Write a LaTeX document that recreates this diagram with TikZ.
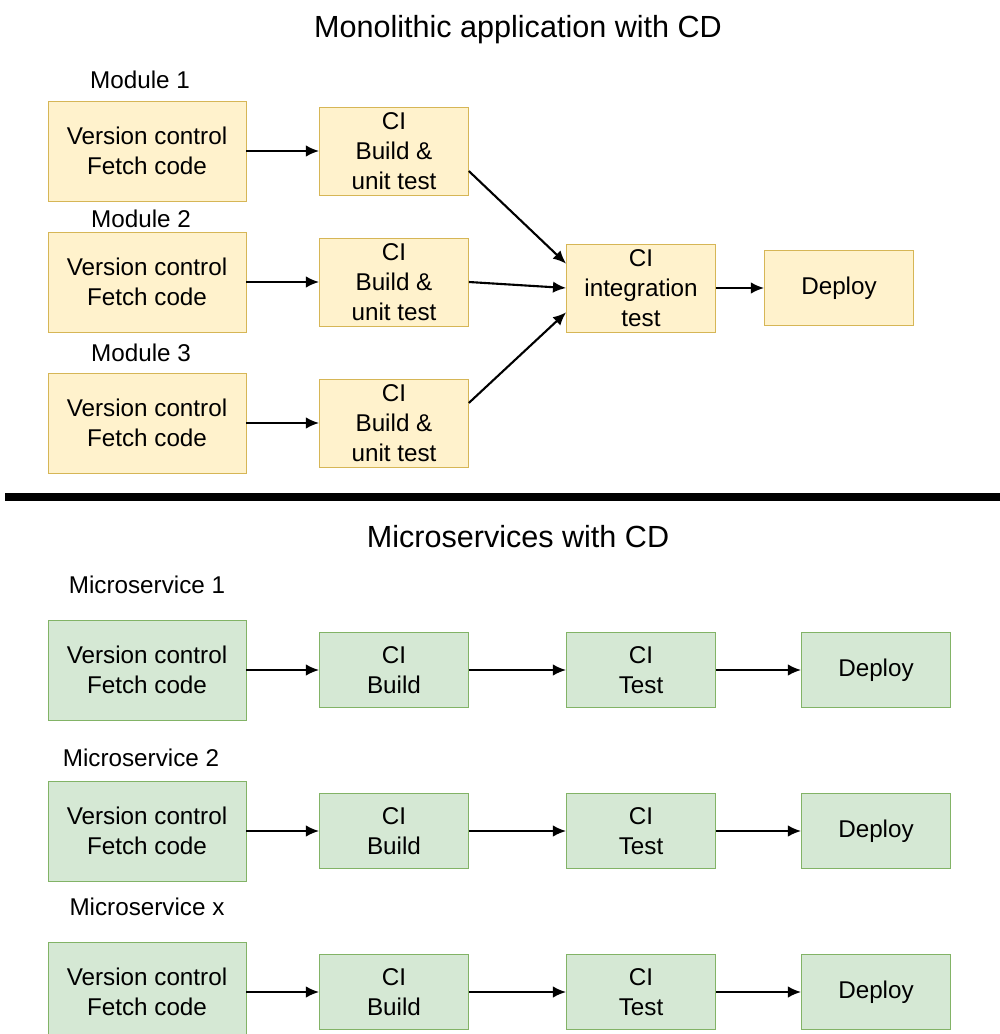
\documentclass[tikz,border=0pt]{standalone}
\usepackage{fontspec}
\setmainfont{Liberation Sans}
\usetikzlibrary{arrows.meta}

\definecolor{monofill}{HTML}{FFF2CC}
\definecolor{monoline}{HTML}{D6B656}
\definecolor{microfill}{HTML}{D5E8D4}
\definecolor{microline}{HTML}{82B366}

\begin{document}
\begin{tikzpicture}[x=0.02cm,y=-0.02cm,>={Latex[length=7.5pt,width=6.5pt]},
  font=\fontsize{13.8}{17}\selectfont,
  mono/.style={draw=monoline,fill=monofill,align=center,inner sep=0pt},
  micro/.style={draw=microline,fill=microfill,align=center,inner sep=0pt},
  wide/.style={minimum width=3.96cm,minimum height=2cm},
  narrow/.style={minimum width=2.98cm,minimum height=1.76cm},
  flat/.style={minimum width=2.98cm,minimum height=1.5cm},
  flow/.style={->,line width=1.2pt},
  heading/.style={font=\fontsize{17.4}{20}\selectfont}]
\useasboundingbox (0,0) rectangle (1000,1034);
% monolithic part
\node[heading] (monotitle) at (518,30) {Monolithic application with CD};
\node (mod1) at (140,80) {Module 1};
\node (mod2) at (141,219) {Module 2};
\node (mod3) at (141,353) {Module 3};
\node[mono,wide] (vc1) at (147,151) {Version control\\Fetch code};
\node[mono,wide] (vc2) at (147,282) {Version control\\Fetch code};
\node[mono,wide] (vc3) at (147,423) {Version control\\Fetch code};
\node[mono,narrow] (ci1) at (394,151) {CI\\Build \&\\unit test};
\node[mono,narrow] (ci2) at (394,282) {CI\\Build \&\\unit test};
\node[mono,narrow] (ci3) at (394,423) {CI\\Build \&\\unit test};
\node[mono,narrow] (integ) at (641,288) {CI\\integration\\test};
\node[mono,flat] (deploy) at (839,288) {Deploy};
\draw[flow] (vc1) -- (ci1);
\draw[flow] (vc2) -- (ci2);
\draw[flow] (vc3) -- (ci3);
\draw[flow] (ci1.-15) -- (integ.162);
\draw[flow] (ci2.east) -- (integ.west);
\draw[flow] (ci3.15) -- (integ.198);
\draw[flow] (integ) -- (deploy);
% separator
\draw[line width=4.5pt] (5,497) -- (1000,497);
% microservices part
\node[heading] (microtitle) at (518,537) {Microservices with CD};
\node (ms1) at (147,585) {Microservice 1};
\node (ms2) at (141,758) {Microservice 2};
\node (msx) at (147,907) {Microservice x};
\foreach \r/\y in {a/670,b/831,c/992}{
  \node[micro,wide] (vc\r) at (147,\y) {Version control\\Fetch code};
  \node[micro,flat] (build\r) at (394,\y) {CI\\Build};
  \node[micro,flat] (test\r) at (641,\y) {CI\\Test};
  \node[micro,flat] (dep\r) at (876,\y) {Deploy};
  \draw[flow] (vc\r) -- (build\r);
  \draw[flow] (build\r) -- (test\r);
  \draw[flow] (test\r) -- (dep\r);
}
\end{tikzpicture}
\end{document}
